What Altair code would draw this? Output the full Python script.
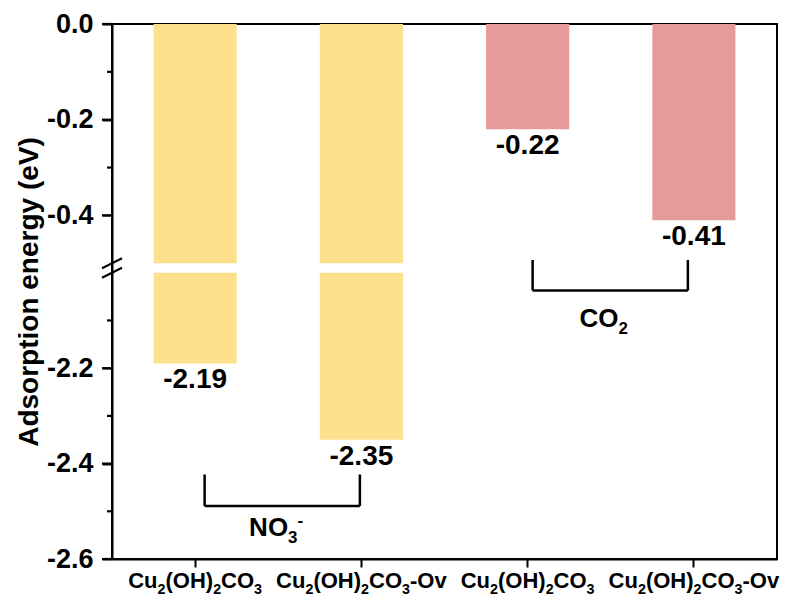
import altair as alt
import numpy as np
import pandas as pd

# Adsorption energies of NO3- and CO2 on the two catalyst surfaces
gases = ["NO3", "NO3", "CO2", "CO2"]
catalysts = ["Cu2(OH)2CO3", "Cu2(OH)2CO3-Ov", "Cu2(OH)2CO3", "Cu2(OH)2CO3-Ov"]
energies = [-2.19, -2.35, -0.22, -0.41]

major_ticks = [0.0, -0.2, -0.4, -2.2, -2.4, -2.6]
minor_ticks = [-0.1, -0.3, -2.1, -2.3, -2.5]

# Broken y axis: upper panel 0 .. -0.5, lower panel -2.0 .. -2.6
UPPER_END = -0.5
LOWER_START = -2.0
Y_MIN = -2.6

W, H = 665, 535
GAP = 9.5
upper_px = 239.25
lower_px = upper_px + GAP

Y_DOMAIN = [Y_MIN, LOWER_START, UPPER_END, 0.0]
Y_RANGE = [H, lower_px, upper_px, 0]

PAD_INNER, PAD_OUTER = 0.5, 0.25
n_cat = len(catalysts)
half_band = W / (n_cat - PAD_INNER + 2 * PAD_OUTER) * (1 - PAD_INNER) / 2

FONT = "Liberation Sans"
YELLOW = "#FDE08B"
PINK = "#E69B9B"

keys = [f"{i}|{c}" for i, c in enumerate(catalysts)]

# bar pieces, split at the axis break
seg_rows = []
for k, g, e in zip(keys, gases, energies):
    seg_rows.append({"key": k, "gas": g, "y0": 0.0, "y1": max(e, UPPER_END)})
    if e < LOWER_START:
        seg_rows.append({"key": k, "gas": g, "y0": LOWER_START, "y1": e})
segments = pd.DataFrame(seg_rows)

labels = pd.DataFrame({
    "key": keys,
    "energy": energies,
    "label": [f"{e:.2f}" for e in energies],
})

# --- chemical formulas with real sub/superscripts -------------------------
# advance widths (em) of the bold sans face
ADV = {"C": .722, "u": .611, "O": .778, "H": .722, "N": .722, "(": .333,
       ")": .333, "-": .333, "v": .556}
ADV.update({d: .556 for d in "0123456789"})
SMALL = 0.65


def formula_pieces(s):
    """Split e.g. 'Cu2(OH)2CO3-Ov' / 'NO3^-' into normal, sub and sup runs."""
    out = []
    i = 0
    while i < len(s):
        ch = s[i]
        if ch == "^":
            out.append((s[i + 1], "sup"))
            i += 2
            continue
        kind = "sub" if ch.isdigit() and i > 0 and s[i - 1] not in "-" else "n"
        if out and out[-1][1] == kind:
            out[-1] = (out[-1][0] + ch, kind)
        else:
            out.append((ch, kind))
        i += 1
    return out


def rich_rows(key, text, size, shift=0.0):
    pieces = formula_pieces(text)
    widths = []
    for t, kind in pieces:
        fs = size if kind == "n" else size * SMALL
        widths.append(sum(ADV[c] for c in t) * fs)
    # xOffset is measured from the start of the band
    x = half_band + shift - sum(widths) / 2
    rows = []
    for (t, kind), w in zip(pieces, widths):
        rows.append({"key": key, "t": t, "kind": kind, "dx": x})
        x += w
    return rows


def rich_layers(rows, size, base_y):
    df = pd.DataFrame(rows)
    out = []
    for kind, dy, fs in [("n", 0, size), ("sub", 0.28 * size, size * SMALL),
                         ("sup", -0.40 * size, size * SMALL)]:
        part = df[df["kind"] == kind]
        if part.empty:
            continue
        out.append(
            alt.Chart(part).mark_text(
                align="left", baseline="alphabetic", font=FONT, fontWeight="bold",
                color="black", fontSize=fs, dy=dy,
            ).encode(
                x=alt.X("key:N", sort=keys),
                xOffset=alt.XOffset("dx:Q", scale=None),
                y=alt.value(base_y),
                text="t:N",
            )
        )
    return out


yscale = alt.Scale(domain=Y_DOMAIN, range=Y_RANGE, nice=False, zero=False)
xscale = alt.Scale(domain=keys, paddingInner=PAD_INNER, paddingOuter=PAD_OUTER)

x_axis = alt.Axis(title=None, labels=False, tickSize=8)
y_axis = alt.Axis(
    title="Adsorption energy (eV)",
    values=major_ticks,
    labelExpr="replace(format(datum.value, '.1f'), '\u2212', '-')",
    labelFontSize=27,
    labelPadding=9,
    ticks=True,
    tickSize=10,
    tickColor="black",
    tickWidth=2,
    titleFontSize=28,
    titlePadding=3,
)

bars = alt.Chart(segments).mark_bar().encode(
    x=alt.X("key:N", scale=xscale, axis=x_axis, sort=keys),
    y=alt.Y("y0:Q", scale=yscale, axis=y_axis),
    y2="y1:Q",
    color=alt.Color("gas:N", scale=alt.Scale(domain=["NO3", "CO2"], range=[YELLOW, PINK]), legend=None),
)

value_text = alt.Chart(labels).mark_text(
    baseline="top", dy=3, fontSize=28, fontWeight="bold", font=FONT, color="black"
).encode(
    x=alt.X("key:N", sort=keys),
    y="energy:Q",
    text="label:N",
)

one = pd.DataFrame({"_": [0]})


def y_px(v):
    """Pixel row of a value on the broken axis (same mapping as yscale)."""
    return float(np.interp(v, Y_DOMAIN, Y_RANGE))


# outward y ticks: long at labelled values, short in between
tick_layers = []
for v in major_ticks:
    tick_layers.append(alt.Chart(one).mark_rule(color="black", strokeWidth=2.2).encode(
        x=alt.value(-10), x2=alt.value(0), y=alt.value(y_px(v))))
for v in minor_ticks:
    tick_layers.append(alt.Chart(one).mark_rule(color="black", strokeWidth=2.2).encode(
        x=alt.value(-5), x2=alt.value(0), y=alt.value(y_px(v))))

# "//" marks where the axis is broken
breaks = alt.Chart(pd.DataFrame({"v": [UPPER_END, LOWER_START]})).mark_rule(
    strokeWidth=2, color="black", yOffset=5, y2Offset=-5
).encode(y="v:Q", y2="v:Q", x=alt.value(-10), x2=alt.value(10))


def bracket(left, right, top, bottom, dx_left, dx_right):
    base = alt.Chart(one)
    return [
        base.mark_rule(strokeWidth=2.5, color="black", xOffset=dx_left).encode(
            x=alt.datum(left), y=alt.value(top), y2=alt.value(bottom)),
        base.mark_rule(strokeWidth=2.5, color="black", xOffset=dx_right).encode(
            x=alt.datum(right), y=alt.value(top), y2=alt.value(bottom)),
        base.mark_rule(strokeWidth=2.5, color="black", xOffset=dx_left, x2Offset=dx_right).encode(
            x=alt.datum(left), x2=alt.datum(right), y=alt.value(bottom)),
    ]


# category names under the x axis
cat_rows = []
for k, c in zip(keys, catalysts):
    cat_rows += rich_rows(k, c, 22)

layers = [bars, value_text, breaks] + tick_layers
layers += bracket(keys[0], keys[1], 450.5, 482, 9.5, -1.5)
layers += bracket(keys[2], keys[3], 236, 266.5, 5, -6)
layers += rich_layers(cat_rows, 22, 564)
layers += rich_layers(rich_rows(keys[0], "NO3^-", 26, shift=81), 26, 512)
layers += rich_layers(rich_rows(keys[2], "CO2", 26, shift=76), 26, 303)

chart = alt.layer(*layers).properties(
    width=W,
    height=H,
    autosize=alt.AutoSizeParams(type="none"),
    padding={"left": 112, "top": 24, "right": 10, "bottom": 46},
).configure_view(
    stroke="black", strokeWidth=2
).configure_axis(
    labelFont=FONT,
    titleFont=FONT,
    labelFontWeight="bold",
    titleFontWeight="bold",
    labelColor="black",
    titleColor="black",
    domainColor="black",
    domainWidth=2,
    tickColor="black",
    tickWidth=2,
    grid=False,
)

chart.save("out.html", embed_options={"renderer": "svg", "actions": False})
